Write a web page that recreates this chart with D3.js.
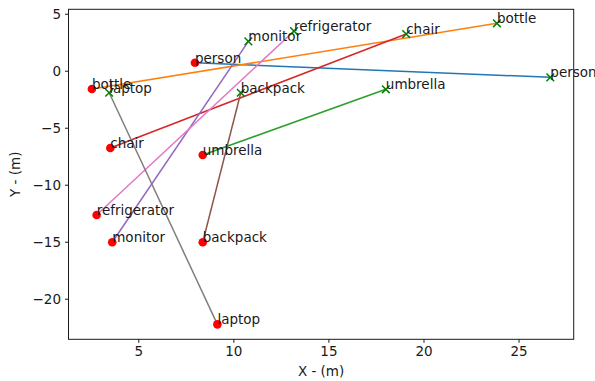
<!DOCTYPE html>
<html>
<head>
<meta charset="utf-8">
<script src="https://cdn.jsdelivr.net/npm/d3@7"></script>
<style>
  body { margin: 0; background: #fff; }
  text { font-family: "DejaVu Sans", sans-serif; }
</style>
</head>
<body>
<div id="chart"></div>
<script>
// object names, in plotting order (tab10 colours)
var labels = ["person", "bottle", "umbrella", "chair", "monitor", "backpack", "refrigerator", "laptop"];
// start points (red dots)
var startX = [7.98, 2.56, 8.39, 3.53, 3.63, 8.39, 2.81, 9.16];
var startY = [0.70, -1.60, -7.39, -6.78, -15.05, -15.05, -12.66, -22.25];
// end points (green crosses)
var endX = [26.67, 23.86, 18.02, 19.09, 10.79, 10.39, 13.19, 3.47];
var endY = [-0.58, 4.16, -1.63, 3.22, 2.58, -1.93, 3.48, -1.93];

var xTicks = [5, 10, 15, 20, 25];
var yTicks = [5, 0, -5, -10, -15, -20];

var colors = ["#1f77b4", "#ff7f0e", "#2ca02c", "#d62728", "#9467bd", "#8c564b", "#e377c2", "#7f7f7f"];

var W = 595, H = 381;
var m = {left: 68.5, right: W - 573.7, top: 9.3, bottom: H - 339.3};

var svg = d3.select("#chart").append("svg")
  .attr("width", W)
  .attr("height", H);

var x = d3.scaleLinear().domain([1.33, 27.9]).range([m.left, W - m.right]);
var y = d3.scaleLinear().domain([-23.56, 5.39]).range([H - m.bottom, m.top]);

var data = labels.map(function(d, i) {
  return {name: d, x0: startX[i], y0: startY[i], x1: endX[i], y1: endY[i], c: colors[i]};
});

// lines
svg.selectAll("line.track")
  .data(data)
  .enter()
  .append("line")
  .attr("class", "track")
  .attr("x1", function(d) { return x(d.x0); })
  .attr("y1", function(d) { return y(d.y0); })
  .attr("x2", function(d) { return x(d.x1); })
  .attr("y2", function(d) { return y(d.y1); })
  .style("stroke", function(d) { return d.c; })
  .style("stroke-width", 1.5);

// start dots
svg.selectAll("circle")
  .data(data)
  .enter()
  .append("circle")
  .attr("cx", function(d) { return x(d.x0); })
  .attr("cy", function(d) { return y(d.y0); })
  .attr("r", 4.3)
  .style("fill", "red");

// end crosses
var cross = d3.symbol().type(d3.symbolTimes).size(40);
svg.selectAll("path.end")
  .data(data)
  .enter()
  .append("path")
  .attr("class", "end")
  .attr("d", cross)
  .attr("transform", function(d) { return "translate(" + x(d.x1) + "," + y(d.y1) + ")"; })
  .style("fill", "none")
  .style("stroke", "green")
  .style("stroke-width", 1.5);

// labels
var lab = svg.append("g").style("font-size", "13.5px").style("fill", "#1a1a1a");
data.forEach(function(d) {
  lab.append("text").attr("x", x(d.x0)).attr("y", y(d.y0)).text(d.name);
  lab.append("text").attr("x", x(d.x1)).attr("y", y(d.y1)).text(d.name);
});

// axes
var xAxis = svg.append("g")
  .attr("transform", "translate(0," + (H - m.bottom) + ")")
  .call(d3.axisBottom(x).tickValues(xTicks).tickSize(3.5).tickPadding(4));
var yAxis = svg.append("g")
  .attr("transform", "translate(" + m.left + ",0)")
  .call(d3.axisLeft(y).tickValues(yTicks).tickSize(3.5).tickPadding(4)
    .tickFormat(function(d) { return d < 0 ? "\u2212" + (-d) : d; }));
[xAxis, yAxis].forEach(function(a) {
  a.selectAll("text").style("font-size", "13.5px").style("font-family", "DejaVu Sans").style("fill", "#1a1a1a");
  a.select(".domain").remove();
  a.selectAll("line").style("stroke", "#1a1a1a");
});

// frame
svg.append("rect")
  .attr("x", m.left).attr("y", m.top)
  .attr("width", W - m.left - m.right)
  .attr("height", H - m.top - m.bottom)
  .style("fill", "none")
  .style("stroke", "#1a1a1a")
  .style("stroke-width", 1);

svg.append("text")
  .attr("x", (m.left + W - m.right) / 2)
  .attr("y", 376)
  .attr("text-anchor", "middle")
  .style("font-size", "13.5px")
  .style("fill", "#1a1a1a")
  .text("X - (m)");

svg.append("text")
  .attr("transform", "translate(20," + ((m.top + H - m.bottom) / 2) + ") rotate(-90)")
  .attr("text-anchor", "middle")
  .style("font-size", "13.5px")
  .style("fill", "#1a1a1a")
  .text("Y - (m)");
</script>
</body>
</html>
